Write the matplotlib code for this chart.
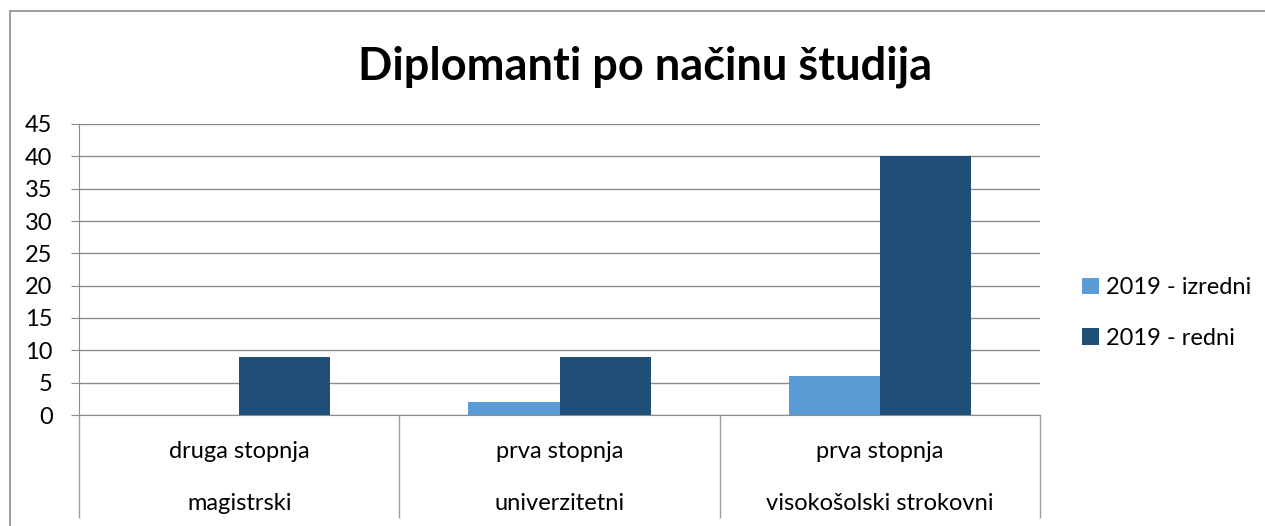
import matplotlib
matplotlib.use('Agg')
import matplotlib.pyplot as plt
from matplotlib.patches import Rectangle
import numpy as np

# ---- data
level1 = ['druga stopnja', 'prva stopnja', 'prva stopnja']
level2 = ['magistrski', 'univerzitetni', 'visokošolski strokovni']
izredni = [0, 2, 6]
redni = [9, 9, 40]
series_names = ['2019 - izredni', '2019 - redni']
yticks = [0, 5, 10, 15, 20, 25, 30, 35, 40, 45]

plt.rcParams['font.family'] = ['Lato', 'DejaVu Sans']

W, H = 1265, 526
fig = plt.figure(figsize=(W / 100, H / 100), dpi=100)

# chart border (cropped at right/bottom)
fig.patches.append(Rectangle((10 / W, -0.1), 2, 1 - 11 / H + 0.1, transform=fig.transFigure,
                             fill=False, edgecolor='#8c8c8c', lw=1.2))

ax = fig.add_axes([79 / W, 111 / H, (1040 - 79) / W, (415 - 124) / H])

x = np.arange(len(level2))
bw = 0.285
ax.bar(x - bw / 2, izredni, bw, color='#5b9bd5', label=series_names[0], zorder=3)
ax.bar(x + bw / 2, redni, bw, color='#1f4e79', label=series_names[1], zorder=3)

ax.set_xlim(-0.5, len(level2) - 0.5)
ax.set_ylim(0, 45)
ax.set_yticks(yticks)
ax.yaxis.grid(True, color='#8c8c8c', lw=1)
ax.set_axisbelow(True)
ax.tick_params(axis='y', length=6, color='#8c8c8c', labelsize=17, pad=13)

# category dividers as long x ticks
ax.set_xticks(np.arange(len(level2) + 1) - 0.5)
ax.set_xticklabels([])
ax.tick_params(axis='x', length=74, width=1, color='#a0a0a0', direction='out')

for s in ['top', 'right']:
    ax.spines[s].set_visible(False)
ax.spines['left'].set_color('#8c8c8c')
ax.spines['bottom'].set_color('#8c8c8c')

trans = ax.get_xaxis_transform()
for i in range(len(level2)):
    ax.text(x[i], -37 / 291, level1[i], transform=trans, ha='center', va='center', fontsize=17)
    ax.text(x[i], -88 / 291, level2[i], transform=trans, ha='center', va='center', fontsize=17)

fig.text(645 / W, 1 - 67 / H, 'Diplomanti po načinu študija', ha='center', va='center',
         fontsize=32.5, fontweight='bold')

fig.legend(loc='center left', bbox_to_anchor=(1082 / W, 1 - 313 / H), frameon=False,
           fontsize=17, handlelength=0.7, handleheight=0.7, handletextpad=0.3,
           labelspacing=1.25, borderpad=0, borderaxespad=0)

fig.savefig('out.png', dpi=100)
